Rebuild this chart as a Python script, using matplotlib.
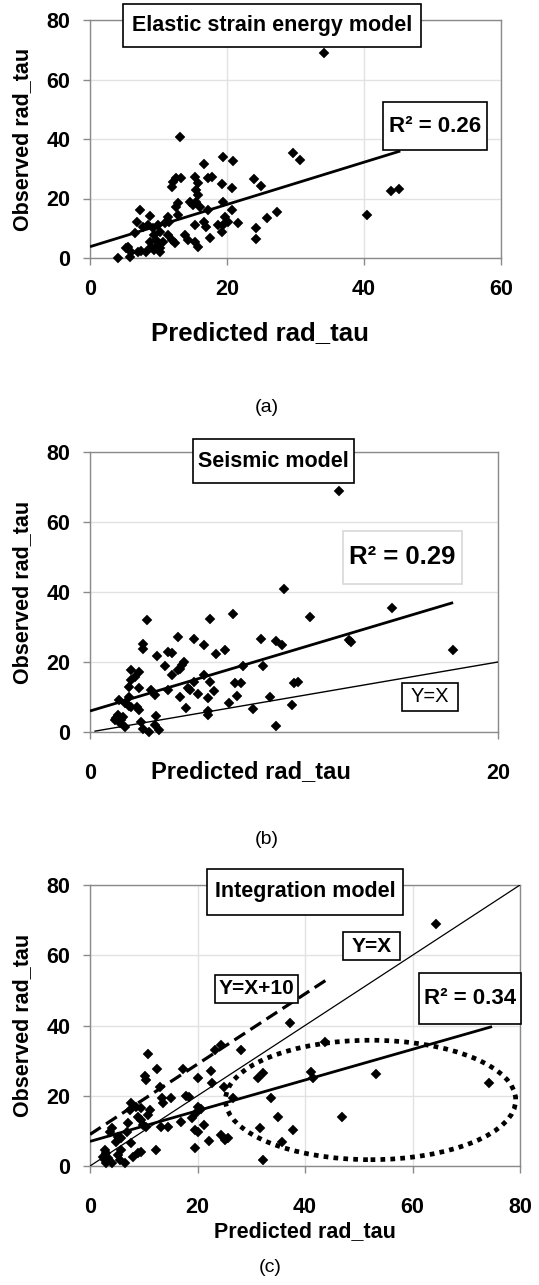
import matplotlib
matplotlib.use('Agg')
import matplotlib.pyplot as plt
from matplotlib.patches import Rectangle, Ellipse

plt.rcParams['font.family'] = ['Liberation Sans', 'DejaVu Sans']

W, H = 539, 1285

# ---------------- data: (a) Elastic strain energy model ----------------
xa = [13.2, 19.4, 20.9, 16.6, 24.0, 25.0, 12.5, 12.1, 11.9, 13.3, 15.4, 17.2, 17.8, 15.8, 19.3,
      20.7, 15.5, 15.8, 14.6, 15.0, 15.5, 16.0, 12.8, 12.6, 19.4, 17.2, 20.7, 19.7, 20.1, 19.4,
      19.2, 21.6, 7.3, 8.7, 6.8, 7.7, 6.5, 8.5, 9.2, 9.9, 10.2, 11.4, 11.6, 10.9, 12.8, 13.8,
      14.3, 15.3, 15.8, 15.3, 16.7, 17.0, 17.5, 18.7, 11.4, 11.9, 12.4, 9.4, 9.7, 9.9, 10.7,
      10.2, 8.7, 8.9, 8.2, 7.5, 7.0, 5.5, 6.0, 5.8, 4.1, 9.4, 10.2, 5.3, 34.1, 43.9, 45.1,
      40.4, 29.7, 30.7, 27.3, 25.8, 24.3, 24.2]
ya = [40.8, 34.1, 32.7, 31.6, 26.6, 24.3, 26.8, 25.6, 24.0, 26.8, 27.1, 26.8, 27.3, 25.1, 24.8,
      23.6, 22.9, 21.2, 18.9, 17.8, 18.9, 17.2, 18.4, 17.2, 18.9, 16.1, 16.1, 13.9, 12.2, 11.1,
      8.8, 11.7, 16.1, 14.2, 12.2, 10.5, 8.3, 11.1, 10.0, 11.1, 8.8, 13.9, 12.2, 11.7, 14.5, 7.7,
      6.1, 5.5, 3.8, 11.1, 12.2, 10.5, 6.6, 11.1, 7.7, 6.1, 4.9, 7.7, 6.1, 4.4, 5.5,
      3.3, 5.5, 3.8, 2.1, 2.4, 2.1, 3.8, 2.1, 0.4, 0.0, 2.7, 2.1, 3.3, 69.0, 22.6, 23.2,
      14.5, 35.4, 32.9, 15.4, 13.3, 10.0, 6.3]
fit_a = (0.71, 3.8)          # slope, intercept
fit_a_x = (0.0, 45.3)
r2_a = 0.26

# ---------------- data: (b) Seismic model ----------------
xb = [9.5, 7.0, 2.8, 5.9, 4.3, 5.1, 5.6, 2.6, 2.6, 8.4, 9.1, 9.4, 6.6, 6.2, 3.8, 4.0, 3.3, 3.7,
      4.6, 4.5, 4.4, 4.3, 4.0, 7.5, 8.5, 2.0, 2.4, 2.2, 2.0, 1.9, 2.4, 5.6, 5.1, 4.8, 4.9, 5.9,
      7.1, 7.4, 3.8, 5.3, 6.1, 3.0, 3.2, 1.9, 4.4, 5.8, 7.2, 1.4, 1.7, 1.9, 2.0, 2.3, 2.4, 6.8,
      8.8, 4.7, 5.8, 5.8, 8.0, 1.37, 1.29, 1.53, 1.45, 1.70, 1.62, 1.21, 2.5, 2.6, 2.9, 3.25,
      3.2, 3.4, 9.1, 12.2, 10.8, 14.8, 12.7, 12.8, 17.8, 10.0, 10.2, 9.9]
yb = [40.9, 33.8, 31.9, 32.2, 27.1, 26.7, 25.0, 25.2, 23.8, 26.5, 26.0, 24.8, 23.3, 22.2, 22.9,
      22.6, 21.6, 18.9, 20.0, 19.1, 18.1, 17.7, 16.2, 18.8, 18.8, 17.7, 17.2, 15.7, 14.8, 12.9,
      12.7, 16.2, 14.3, 12.7, 12.0, 14.3, 14.0, 13.9, 12.0, 11.0, 11.7, 12.0, 10.5, 10.1, 9.9,
      9.6, 10.3, 9.1, 8.2, 7.4, 7.2, 7.2, 6.3, 8.4, 10.1, 7.0, 6.1, 4.8, 6.5, 4.8, 3.9, 3.4,
      2.5, 1.5, 4.4, 3.4, 2.9, 1.0, 0.1, 4.6, 2.0, 0.6, 1.8, 68.9, 33.0, 35.4, 26.4, 25.7,
      23.5, 13.9, 14.3, 7.7]
fit_b = (1.74, 6.0)
fit_b_x = (0.0, 17.8)
yx_b = (0.25, 20.0)
r2_b = 0.29

# ---------------- data: (c) Integration model ----------------
xc = [10.7, 28.0, 24.4, 23.2, 12.5, 10.3, 10.5, 17.3, 20.1, 22.5, 22.7, 13.0, 24.9, 13.4, 13.6,
      15.1, 17.9, 18.5, 7.7, 8.6, 7.4, 9.5, 11.1, 10.8, 20.1, 20.7, 19.8, 26.6, 31.3, 32.2, 33.6,
      35.0, 8.9, 9.5, 9.9, 10.5, 7.1, 6.8, 5.8, 5.2, 4.9, 4.0, 3.7, 13.2, 14.5, 17.0, 18.9, 19.6,
      20.0, 21.3, 22.1, 19.5, 12.3, 24.4, 25.1, 25.7, 31.7, 32.2, 35.8, 7.7, 8.9, 9.5, 8.0, 6.5,
      5.8, 5.2, 5.5, 2.7, 3.0, 2.4, 3.3, 2.7, 4.0, 3.0, 64.3, 43.7, 37.2, 41.2, 41.5, 53.2,
      74.2, 46.8, 37.8]
yc = [31.9, 33.0, 34.4, 33.0, 27.5, 25.6, 24.5, 27.5, 25.0, 27.1, 23.5, 22.6, 22.4, 19.3, 17.8,
      19.3, 19.9, 19.6, 17.8, 16.9, 15.9, 16.4, 15.9, 14.5, 16.9, 16.1, 15.0, 19.4, 25.0, 26.4,
      19.3, 14.0, 14.0, 13.1, 11.7, 11.2, 12.2, 9.8, 7.9, 8.3, 6.9, 10.7, 9.8, 11.2, 11.2, 12.6,
      13.6, 10.2, 9.8, 11.7, 7.1, 5.0, 4.6, 8.8, 7.4, 7.9, 10.7, 1.7, 6.9, 6.5, 3.6, 4.1, 2.6,
      0.8, 4.6, 3.1, 1.7, 4.6, 3.6, 2.6, 2.2, 1.7, 0.8, 0.8, 68.9, 35.4, 40.6, 26.8, 25.0,
      26.1, 23.7, 13.9, 10.2]
fit_c = (0.437, 7.0)
fit_c_x = (0.0, 74.8)
plus10_c = (1.0, 9.0)
plus10_c_x = (0.0, 44.5)
yx_c = (0.0, 80.0)
ellipse_c = (52.2, 18.8, 54.0, 34.0)   # centre x, centre y, width, height
r2_c = 0.34

yticks = [0, 20, 40, 60, 80]

# ---------------- figure ----------------
fig = plt.figure(figsize=(W / 100, H / 100), dpi=100)

GRID = '#e2e2e2'
SPINE = '#8a8a8a'


def add_ax(l, t, r, b):
    return fig.add_axes([l / W, 1 - b / H, (r - l) / W, (b - t) / H])


def style(ax, xlim, xticks, vgrid, xpad):
    ax.set_xlim(*xlim)
    ax.set_ylim(0, 80)
    ax.set_yticks(yticks)
    ax.set_xticks(xticks)
    for s in ax.spines.values():
        s.set_color(SPINE)
        s.set_linewidth(1.0)
    ax.grid(axis='y', color=GRID, lw=1.0)
    ax.grid(axis='x', color=GRID, lw=1.0, visible=vgrid)
    ax.set_axisbelow(True)
    ax.tick_params(axis='both', length=5, width=1.0, color=SPINE, labelsize=15.5)
    ax.tick_params(axis='y', pad=9)
    ax.tick_params(axis='x', pad=xpad)
    for lab in ax.get_xticklabels() + ax.get_yticklabels():
        lab.set_fontweight('bold')


def ftext(px, py, s, **kw):
    fig.text(px / W, 1 - py / H, s, ha='center', va='center', **kw)


def box(x0, y0, x1, y1, s, size, ec='black', weight='bold'):
    fig.add_artist(Rectangle((x0 / W, 1 - y1 / H), (x1 - x0) / W, (y1 - y0) / H,
                             transform=fig.transFigure, facecolor='white',
                             edgecolor=ec, lw=1.2, zorder=10))
    t = fig.text((x0 + x1) / 2 / W, 1 - (y0 + y1) / 2 / H, s, ha='center', va='center',
                 fontsize=size, fontweight=weight, zorder=11)
    return t


def scatter(ax, x, y):
    ax.plot(x, y, linestyle='none', marker='D', ms=5.2, color='black', mec='black',
            mew=0.3, clip_on=False, zorder=3)


def line(ax, fit, xr, **kw):
    m, c = fit
    ax.plot(list(xr), [m * xr[0] + c, m * xr[1] + c], color='black', zorder=4, **kw)


# ---- panel (a)
axa = add_ax(90, 20, 501, 258)
style(axa, (0, 60), [0, 20, 40, 60], True, 10)
scatter(axa, xa, ya)
line(axa, fit_a, fit_a_x, lw=2.0, solid_capstyle='butt')
box(123, 4, 421, 47, 'Elastic strain energy model', 15.5)
box(383, 102, 487, 150, f'R\u00b2 = {r2_a:.2f}', 16)
ftext(260, 333, 'Predicted rad_tau', fontsize=18.5, fontweight='bold')
ftext(23, 139, 'Observed rad_tau', fontsize=15.5, fontweight='bold', rotation=90)
ftext(267, 407, '(a)', fontsize=14)

# ---- panel (b)
axb = add_ax(90, 452, 498, 732)
style(axb, (0, 20), [0, 20], False, 17)
scatter(axb, xb, yb)
line(axb, fit_b, fit_b_x, lw=2.0, solid_capstyle='butt')
line(axb, (1.0, 0.0), yx_b, lw=1.0)
box(193, 439, 354, 483, 'Seismic model', 15.5)
box(343, 531, 462, 584, f'R\u00b2 = {r2_b:.2f}', 18.5, ec='#d8d8d8')
box(402, 683, 458, 711, 'Y=X', 14.5, weight='normal')
ftext(251, 772, 'Predicted rad_tau', fontsize=17, fontweight='bold')
ftext(23, 592, 'Observed rad_tau', fontsize=15.5, fontweight='bold', rotation=90)
ftext(267, 839, '(b)', fontsize=14)

# ---- panel (c)
axc = add_ax(90, 885, 520, 1166)
style(axc, (0, 80), [0, 20, 40, 60, 80], True, 17)
scatter(axc, xc, yc)
line(axc, fit_c, fit_c_x, lw=2.0, solid_capstyle='butt')
line(axc, (1.0, 0.0), yx_c, lw=0.9)
line(axc, plus10_c, plus10_c_x, lw=2.3, linestyle=(0, (4, 2)), dash_capstyle='butt')
ex, ey, ew, eh = ellipse_c
axc.add_patch(Ellipse((ex, ey), ew, eh, angle=0, fill=False, edgecolor='black', lw=3.4,
                      linestyle=(0, (1, 1.1)), capstyle='butt', zorder=4, clip_on=False))
box(207, 869, 403, 915, 'Integration model', 15.5)
box(215, 975, 298, 1003, 'Y=X+10', 15)
box(343, 932, 400, 960, 'Y=X', 15)
box(419, 973, 521, 1024, f'R\u00b2 = {r2_c:.2f}', 16)
ftext(305, 1232, 'Predicted rad_tau', fontsize=15.5, fontweight='bold')
ftext(23, 1025, 'Observed rad_tau', fontsize=15.5, fontweight='bold', rotation=90)
ftext(270, 1268, '(c)', fontsize=14)

fig.savefig('out.png', dpi=100)
